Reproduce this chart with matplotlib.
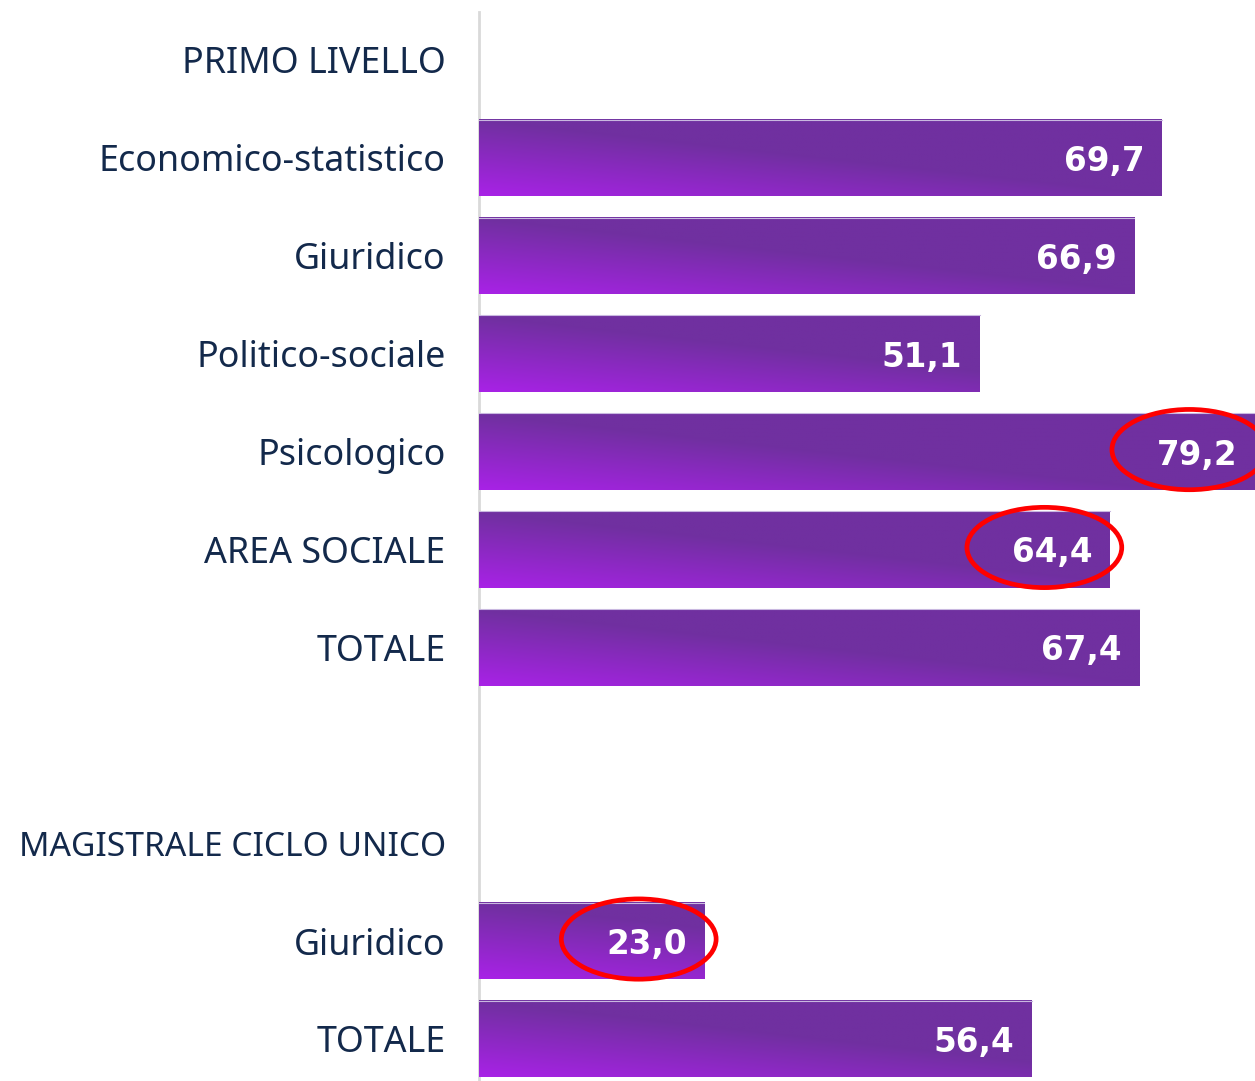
import numpy as np
import matplotlib.pyplot as plt
from matplotlib.patches import Ellipse
from matplotlib.colors import to_rgb

# dati
categorie = ['PRIMO LIVELLO', 'Economico-statistico', 'Giuridico', 'Politico-sociale',
             'Psicologico', 'AREA SOCIALE', 'TOTALE', '',
             'MAGISTRALE CICLO UNICO', 'Giuridico', 'TOTALE']
valori = [None, 69.7, 66.9, 51.1, 79.2, 64.4, 67.4, None, None, 23.0, 56.4]
evidenziati = [4, 5, 9]  # valori cerchiati in rosso

plt.rcParams['font.family'] = ['Noto Sans', 'DejaVu Sans']

fig = plt.figure(figsize=(12.55, 10.81), dpi=100)
ax = fig.add_axes([479 / 1255, 0, 1 - 479 / 1255, 1 - 12 / 1081])

scuro = np.array(to_rgb('#7030A0'))
chiaro = np.array(to_rgb('#A822E6'))
h = 0.78

for i, v in enumerate(valori):
    if v is None:
        continue
    xs = np.linspace(0, v, 200)
    ys = np.linspace(0, 1, 40)
    X, Y = np.meshgrid(xs, ys)
    # Y=0 in alto, Y=1 in basso (asse invertito)
    t = np.clip((1 - Y) * 1.0 + X / 70.0, 0, 1)
    img = chiaro * (1 - t[..., None]) + scuro * t[..., None]
    ax.imshow(img, extent=(0, v, i + h / 2, i - h / 2), aspect='auto',
              interpolation='bilinear', zorder=2)
    ax.plot([0, v], [i - h / 2, i - h / 2], color='#C9B8E0', lw=0.8, zorder=3)
    ax.text(v - 1.8, i, f'{v:.1f}'.replace('.', ','), ha='right', va='center_baseline',
            color='white', fontsize=23.5, fontweight='bold', family='DejaVu Sans', zorder=4)
    if i in evidenziati:
        ax.add_patch(Ellipse((v - 6.7, i - 0.02), 15.8, 0.82, fill=False,
                             edgecolor='#FF0000', lw=3.4, zorder=5, clip_on=False))

ax.set_xlim(0, 79.2)
ax.set_ylim(10.43, -0.49)
ax.set_yticks(range(len(categorie)))
ax.set_yticklabels(categorie, fontsize=25.8, color='#13294B')
ax.get_yticklabels()[8].set_fontsize(24.2)
ax.tick_params(axis='y', length=0, pad=24)
ax.set_xticks([])
for s in ['top', 'right', 'bottom']:
    ax.spines[s].set_visible(False)
ax.spines['left'].set_color('#D9D9D9')
ax.spines['left'].set_linewidth(2)
ax.spines['left'].set_zorder(1)

fig.savefig('out.png', dpi=100)
